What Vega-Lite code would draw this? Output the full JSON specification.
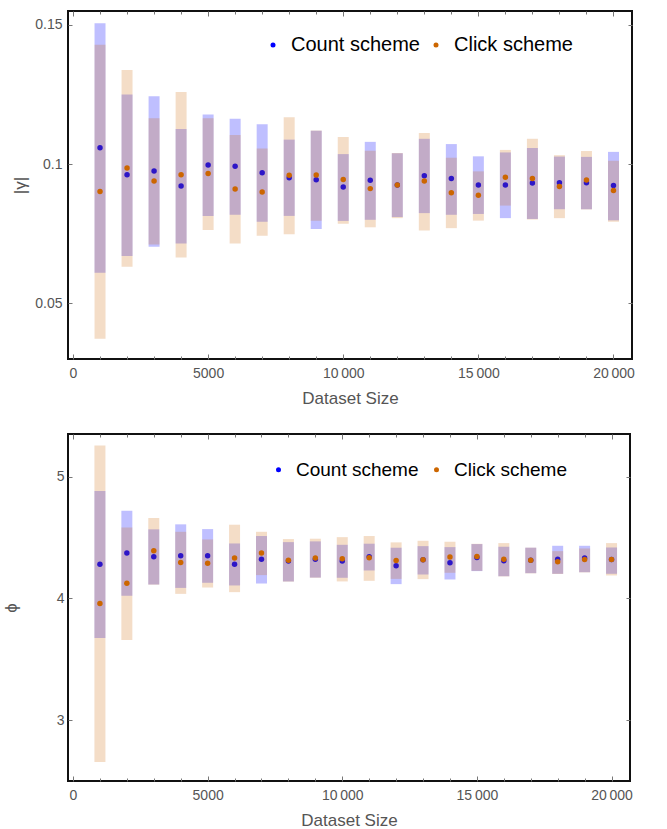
{
  "$schema": "https://vega.github.io/schema/vega-lite/v6.json",
  "padding": {"left": 1, "top": 9, "right": 5, "bottom": 5},
  "config": {
    "font": "Liberation Sans",
    "view": {"stroke": "#111", "strokeWidth": 2},
    "axis": {"grid": false, "domain": false, "labelColor": "#555", "labelFontSize": 14, "titleColor": "#555", "titleFontWeight": "normal", "titleFontSize": 17, "tickColor": "#777", "labelFlush": false, "labelOverlap": false}
  },
  "datasets": {
    "gamma": [
      {"n": 1000, "scheme": "Count scheme", "lo": 0.0610, "hi": 0.1506, "v": 0.1059},
      {"n": 1000, "scheme": "Click scheme", "lo": 0.0373, "hi": 0.1429, "v": 0.0902},
      {"n": 2000, "scheme": "Count scheme", "lo": 0.0670, "hi": 0.1250, "v": 0.0962},
      {"n": 2000, "scheme": "Click scheme", "lo": 0.0631, "hi": 0.1338, "v": 0.0986},
      {"n": 3000, "scheme": "Count scheme", "lo": 0.0703, "hi": 0.1244, "v": 0.0975},
      {"n": 3000, "scheme": "Click scheme", "lo": 0.0711, "hi": 0.1165, "v": 0.0939},
      {"n": 4000, "scheme": "Count scheme", "lo": 0.0715, "hi": 0.1126, "v": 0.0921},
      {"n": 4000, "scheme": "Click scheme", "lo": 0.0665, "hi": 0.1259, "v": 0.0962},
      {"n": 5000, "scheme": "Count scheme", "lo": 0.0814, "hi": 0.1178, "v": 0.0997},
      {"n": 5000, "scheme": "Click scheme", "lo": 0.0763, "hi": 0.1165, "v": 0.0966},
      {"n": 6000, "scheme": "Count scheme", "lo": 0.0818, "hi": 0.1163, "v": 0.0992},
      {"n": 6000, "scheme": "Click scheme", "lo": 0.0715, "hi": 0.1105, "v": 0.0911},
      {"n": 7000, "scheme": "Count scheme", "lo": 0.0793, "hi": 0.1143, "v": 0.0969},
      {"n": 7000, "scheme": "Click scheme", "lo": 0.0743, "hi": 0.1056, "v": 0.0900},
      {"n": 8000, "scheme": "Count scheme", "lo": 0.0814, "hi": 0.1088, "v": 0.0951},
      {"n": 8000, "scheme": "Click scheme", "lo": 0.0748, "hi": 0.1168, "v": 0.0960},
      {"n": 9000, "scheme": "Count scheme", "lo": 0.0767, "hi": 0.1120, "v": 0.0944},
      {"n": 9000, "scheme": "Click scheme", "lo": 0.0797, "hi": 0.1121, "v": 0.0961},
      {"n": 10000, "scheme": "Count scheme", "lo": 0.0796, "hi": 0.1036, "v": 0.0918},
      {"n": 10000, "scheme": "Click scheme", "lo": 0.0786, "hi": 0.1097, "v": 0.0945},
      {"n": 11000, "scheme": "Count scheme", "lo": 0.0800, "hi": 0.1080, "v": 0.0942},
      {"n": 11000, "scheme": "Click scheme", "lo": 0.0773, "hi": 0.1048, "v": 0.0912},
      {"n": 12000, "scheme": "Count scheme", "lo": 0.0810, "hi": 0.1039, "v": 0.0925},
      {"n": 12000, "scheme": "Click scheme", "lo": 0.0806, "hi": 0.1040, "v": 0.0925},
      {"n": 13000, "scheme": "Count scheme", "lo": 0.0824, "hi": 0.1091, "v": 0.0958},
      {"n": 13000, "scheme": "Click scheme", "lo": 0.0762, "hi": 0.1112, "v": 0.0939},
      {"n": 14000, "scheme": "Count scheme", "lo": 0.0818, "hi": 0.1072, "v": 0.0948},
      {"n": 14000, "scheme": "Click scheme", "lo": 0.0770, "hi": 0.1023, "v": 0.0897},
      {"n": 15000, "scheme": "Count scheme", "lo": 0.0821, "hi": 0.1028, "v": 0.0925},
      {"n": 15000, "scheme": "Click scheme", "lo": 0.0797, "hi": 0.0974, "v": 0.0888},
      {"n": 16000, "scheme": "Count scheme", "lo": 0.0806, "hi": 0.1042, "v": 0.0925},
      {"n": 16000, "scheme": "Click scheme", "lo": 0.0851, "hi": 0.1051, "v": 0.0953},
      {"n": 17000, "scheme": "Count scheme", "lo": 0.0803, "hi": 0.1058, "v": 0.0932},
      {"n": 17000, "scheme": "Click scheme", "lo": 0.0801, "hi": 0.1091, "v": 0.0948},
      {"n": 18000, "scheme": "Count scheme", "lo": 0.0838, "hi": 0.1027, "v": 0.0933},
      {"n": 18000, "scheme": "Click scheme", "lo": 0.0806, "hi": 0.1032, "v": 0.0920},
      {"n": 19000, "scheme": "Count scheme", "lo": 0.0838, "hi": 0.1026, "v": 0.0933},
      {"n": 19000, "scheme": "Click scheme", "lo": 0.0837, "hi": 0.1047, "v": 0.0943},
      {"n": 20000, "scheme": "Count scheme", "lo": 0.0798, "hi": 0.1044, "v": 0.0923},
      {"n": 20000, "scheme": "Click scheme", "lo": 0.0793, "hi": 0.1012, "v": 0.0905}
    ],
    "phi": [
      {"n": 1000, "scheme": "Count scheme", "lo": 3.675, "hi": 4.882, "v": 4.281},
      {"n": 1000, "scheme": "Click scheme", "lo": 2.657, "hi": 5.255, "v": 3.957},
      {"n": 2000, "scheme": "Count scheme", "lo": 4.021, "hi": 4.720, "v": 4.372},
      {"n": 2000, "scheme": "Click scheme", "lo": 3.658, "hi": 4.583, "v": 4.125},
      {"n": 3000, "scheme": "Count scheme", "lo": 4.114, "hi": 4.567, "v": 4.342},
      {"n": 3000, "scheme": "Click scheme", "lo": 4.112, "hi": 4.660, "v": 4.391},
      {"n": 4000, "scheme": "Count scheme", "lo": 4.086, "hi": 4.608, "v": 4.350},
      {"n": 4000, "scheme": "Click scheme", "lo": 4.037, "hi": 4.547, "v": 4.295},
      {"n": 5000, "scheme": "Count scheme", "lo": 4.128, "hi": 4.569, "v": 4.350},
      {"n": 5000, "scheme": "Click scheme", "lo": 4.089, "hi": 4.484, "v": 4.289},
      {"n": 6000, "scheme": "Count scheme", "lo": 4.106, "hi": 4.451, "v": 4.281},
      {"n": 6000, "scheme": "Click scheme", "lo": 4.051, "hi": 4.605, "v": 4.331},
      {"n": 7000, "scheme": "Count scheme", "lo": 4.122, "hi": 4.512, "v": 4.322},
      {"n": 7000, "scheme": "Click scheme", "lo": 4.191, "hi": 4.547, "v": 4.372},
      {"n": 8000, "scheme": "Count scheme", "lo": 4.139, "hi": 4.462, "v": 4.306},
      {"n": 8000, "scheme": "Click scheme", "lo": 4.137, "hi": 4.487, "v": 4.314},
      {"n": 9000, "scheme": "Count scheme", "lo": 4.171, "hi": 4.468, "v": 4.322},
      {"n": 9000, "scheme": "Click scheme", "lo": 4.169, "hi": 4.490, "v": 4.331},
      {"n": 10000, "scheme": "Count scheme", "lo": 4.169, "hi": 4.440, "v": 4.306},
      {"n": 10000, "scheme": "Click scheme", "lo": 4.139, "hi": 4.503, "v": 4.325},
      {"n": 11000, "scheme": "Count scheme", "lo": 4.229, "hi": 4.449, "v": 4.342},
      {"n": 11000, "scheme": "Click scheme", "lo": 4.144, "hi": 4.512, "v": 4.333},
      {"n": 12000, "scheme": "Count scheme", "lo": 4.117, "hi": 4.416, "v": 4.267},
      {"n": 12000, "scheme": "Click scheme", "lo": 4.160, "hi": 4.460, "v": 4.311},
      {"n": 13000, "scheme": "Count scheme", "lo": 4.196, "hi": 4.429, "v": 4.317},
      {"n": 13000, "scheme": "Click scheme", "lo": 4.158, "hi": 4.473, "v": 4.317},
      {"n": 14000, "scheme": "Count scheme", "lo": 4.155, "hi": 4.421, "v": 4.292},
      {"n": 14000, "scheme": "Click scheme", "lo": 4.210, "hi": 4.465, "v": 4.339},
      {"n": 15000, "scheme": "Count scheme", "lo": 4.224, "hi": 4.446, "v": 4.336},
      {"n": 15000, "scheme": "Click scheme", "lo": 4.226, "hi": 4.448, "v": 4.344},
      {"n": 16000, "scheme": "Count scheme", "lo": 4.182, "hi": 4.424, "v": 4.309},
      {"n": 16000, "scheme": "Click scheme", "lo": 4.180, "hi": 4.454, "v": 4.322},
      {"n": 17000, "scheme": "Count scheme", "lo": 4.207, "hi": 4.416, "v": 4.314},
      {"n": 17000, "scheme": "Click scheme", "lo": 4.205, "hi": 4.417, "v": 4.314},
      {"n": 18000, "scheme": "Count scheme", "lo": 4.202, "hi": 4.432, "v": 4.322},
      {"n": 18000, "scheme": "Click scheme", "lo": 4.200, "hi": 4.388, "v": 4.300},
      {"n": 19000, "scheme": "Count scheme", "lo": 4.215, "hi": 4.432, "v": 4.331},
      {"n": 19000, "scheme": "Click scheme", "lo": 4.213, "hi": 4.410, "v": 4.320},
      {"n": 20000, "scheme": "Count scheme", "lo": 4.202, "hi": 4.418, "v": 4.320},
      {"n": 20000, "scheme": "Click scheme", "lo": 4.188, "hi": 4.454, "v": 4.320}
    ]
  },
  "concat": [
    {
      "width": 564, "height": 348,
      "data": {"name": "gamma"},
      "layer": [
        {
          "transform": [{"filter": "datum.scheme === 'Count scheme'"}],
          "mark": {"type": "bar", "size": 11, "color": "#0000ff", "opacity": 0.25},
          "encoding": {
            "x": {"field": "n", "type": "quantitative", "scale": {"domain": [0, 20500], "nice": false, "zero": false},
              "axis": {"orient": "bottom", "title": "Dataset Size", "values": [0,1000,2000,3000,4000,5000,6000,7000,8000,9000,10000,11000,12000,13000,14000,15000,16000,17000,18000,19000,20000],
                "labelExpr": "datum.value % 5000 === 0 ? (datum.value >= 10000 ? replace(format(datum.value, ','), ',', '\u2009') : format(datum.value, 'd')) : ''",
                "tickSize": {"condition": {"test": "datum.value % 5000 === 0", "value": -5}, "value": -3}, "labelPadding": 12, "titlePadding": 8}},
            "y": {"field": "lo", "type": "quantitative", "scale": {"domain": [0.03, 0.155], "nice": false, "zero": false},
              "axis": {"orient": "left", "title": "|\u03b3|", "titleX": -38.5, "values": [0.05, 0.1, 0.15], "format": "~g", "tickSize": -4, "labelPadding": 10}},
            "y2": {"field": "hi"}
          }
        },
        {
          "transform": [{"filter": "datum.scheme === 'Count scheme'"}],
          "mark": {"type": "circle", "size": 30, "opacity": 1},
          "encoding": {
            "x": {"field": "n", "type": "quantitative", "axis": null},
            "y": {"field": "v", "type": "quantitative", "axis": null},
            "color": {"field": "scheme", "type": "nominal", "scale": {"domain": ["Count scheme", "Click scheme"], "range": ["#0000ff", "#cc6600"]},
              "legend": {"orient": "none", "legendX": 195, "legendY": 24, "direction": "horizontal", "title": null, "symbolType": "circle", "symbolSize": 25, "symbolStrokeWidth": 0, "symbolOpacity": 1, "labelFontSize": 20, "labelColor": "#000", "labelOffset": 8, "columnPadding": 6}}
          }
        },
        {
          "transform": [{"filter": "datum.scheme === 'Click scheme'"}],
          "mark": {"type": "bar", "size": 11, "color": "#cc6600", "opacity": 0.22},
          "encoding": {
            "x": {"field": "n", "type": "quantitative",
              "axis": {"orient": "top", "title": null, "labels": false, "values": [0,1000,2000,3000,4000,5000,6000,7000,8000,9000,10000,11000,12000,13000,14000,15000,16000,17000,18000,19000,20000],
                "tickSize": {"condition": {"test": "datum.value % 5000 === 0", "value": -5}, "value": -3}}},
            "y": {"field": "lo", "type": "quantitative",
              "axis": {"orient": "right", "title": null, "labels": false, "values": [0.05, 0.1, 0.15], "tickSize": -4}},
            "y2": {"field": "hi"}
          }
        },
        {
          "transform": [{"filter": "datum.scheme === 'Click scheme'"}],
          "mark": {"type": "circle", "size": 30, "opacity": 1},
          "encoding": {
            "x": {"field": "n", "type": "quantitative", "axis": null},
            "y": {"field": "v", "type": "quantitative", "axis": null},
            "color": {"field": "scheme", "type": "nominal", "scale": {"domain": ["Count scheme", "Click scheme"], "range": ["#0000ff", "#cc6600"]}}
          }
        }
      ],
      "resolve": {"axis": {"x": "independent", "y": "independent"}}
    },
    {
      "width": 562, "height": 347,
      "data": {"name": "phi"},
      "layer": [
        {
          "transform": [{"filter": "datum.scheme === 'Count scheme'"}],
          "mark": {"type": "bar", "size": 11, "color": "#0000ff", "opacity": 0.25},
          "encoding": {
            "x": {"field": "n", "type": "quantitative", "scale": {"domain": [0, 20500], "nice": false, "zero": false},
              "axis": {"orient": "bottom", "title": "Dataset Size", "values": [0,1000,2000,3000,4000,5000,6000,7000,8000,9000,10000,11000,12000,13000,14000,15000,16000,17000,18000,19000,20000],
                "labelExpr": "datum.value % 5000 === 0 ? (datum.value >= 10000 ? replace(format(datum.value, ','), ',', '\u2009') : format(datum.value, 'd')) : ''",
                "tickSize": {"condition": {"test": "datum.value % 5000 === 0", "value": -5}, "value": -3}, "labelPadding": 12, "titlePadding": 8}},
            "y": {"field": "lo", "type": "quantitative", "scale": {"domain": [2.5, 5.35], "nice": false, "zero": false},
              "axis": {"orient": "left", "title": "\u03d5", "titleX": -47.5, "values": [3, 4, 5], "format": "d", "tickSize": -4, "labelPadding": 8}},
            "y2": {"field": "hi"}
          }
        },
        {
          "transform": [{"filter": "datum.scheme === 'Count scheme'"}],
          "mark": {"type": "circle", "size": 30, "opacity": 1},
          "encoding": {
            "x": {"field": "n", "type": "quantitative", "axis": null},
            "y": {"field": "v", "type": "quantitative", "axis": null},
            "color": {"field": "scheme", "type": "nominal", "scale": {"domain": ["Count scheme", "Click scheme"], "range": ["#0000ff", "#cc6600"]},
              "legend": {"orient": "none", "legendX": 201, "legendY": 26, "direction": "horizontal", "title": null, "symbolType": "circle", "symbolSize": 25, "symbolStrokeWidth": 0, "symbolOpacity": 1, "labelFontSize": 19, "labelColor": "#000", "labelOffset": 8, "columnPadding": 8}}
          }
        },
        {
          "transform": [{"filter": "datum.scheme === 'Click scheme'"}],
          "mark": {"type": "bar", "size": 11, "color": "#cc6600", "opacity": 0.22},
          "encoding": {
            "x": {"field": "n", "type": "quantitative",
              "axis": {"orient": "top", "title": null, "labels": false, "values": [0,1000,2000,3000,4000,5000,6000,7000,8000,9000,10000,11000,12000,13000,14000,15000,16000,17000,18000,19000,20000],
                "tickSize": {"condition": {"test": "datum.value % 5000 === 0", "value": -5}, "value": -3}}},
            "y": {"field": "lo", "type": "quantitative",
              "axis": {"orient": "right", "title": null, "labels": false, "values": [3, 4, 5], "tickSize": -4}},
            "y2": {"field": "hi"}
          }
        },
        {
          "transform": [{"filter": "datum.scheme === 'Click scheme'"}],
          "mark": {"type": "circle", "size": 30, "opacity": 1},
          "encoding": {
            "x": {"field": "n", "type": "quantitative", "axis": null},
            "y": {"field": "v", "type": "quantitative", "axis": null},
            "color": {"field": "scheme", "type": "nominal", "scale": {"domain": ["Count scheme", "Click scheme"], "range": ["#0000ff", "#cc6600"]}}
          }
        }
      ],
      "resolve": {"axis": {"x": "independent", "y": "independent"}}
    }
  ],
  "columns": 1,
  "align": "all",
  "spacing": 25,
  "resolve": {"scale": {"color": "independent"}, "legend": {"color": "independent"}}
}
